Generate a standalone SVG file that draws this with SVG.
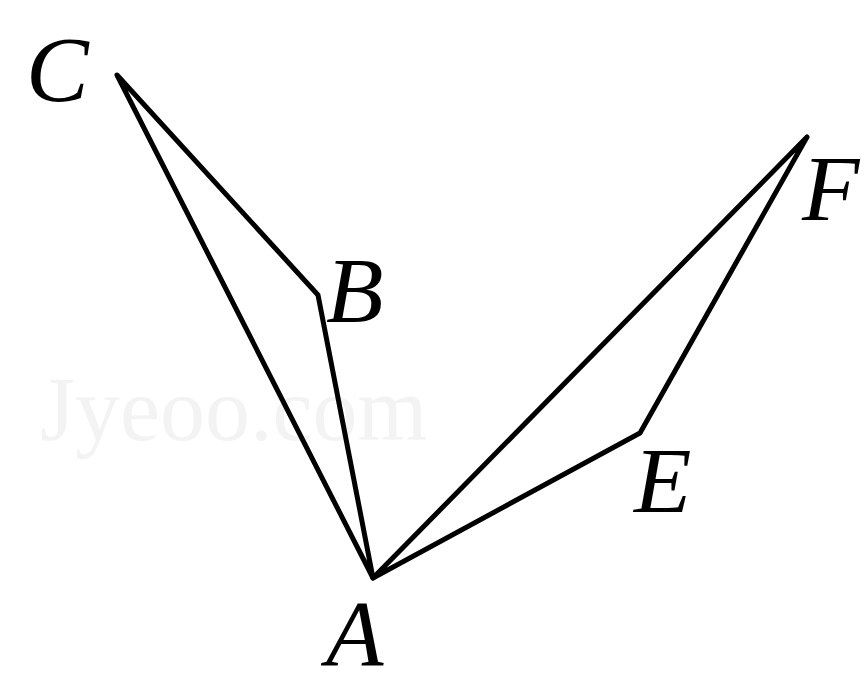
<svg xmlns="http://www.w3.org/2000/svg" width="867" height="675" viewBox="0 0 867 675">
<style>
.e{fill:none;stroke:#000;stroke-width:5;stroke-linejoin:round;stroke-linecap:round}
.l{font-family:"Liberation Serif","Times New Roman",serif;font-style:italic;font-size:94px;fill:#000}
.w{font-family:"Liberation Serif",serif;font-size:90px;fill:#f3f3f3}
</style>
<rect width="867" height="675" fill="#fff"/>
<text class="w" x="40" y="440">Jyeoo.com</text>
<g id="edges">
<polyline class="e" points="373,578 117,75 318,295 373,578"/>
<polyline class="e" points="373,578 807,137 640,433 373,578"/>
</g>
<g id="C"><text class="l" x="26" y="101">C</text></g>
<g id="B"><text class="l" x="326" y="322">B</text></g>
<g id="A"><text class="l" x="326" y="665">A</text></g>
<g id="E"><text class="l" x="634" y="512">E</text></g>
<g id="F"><text class="l" x="802" y="220">F</text></g>
</svg>
